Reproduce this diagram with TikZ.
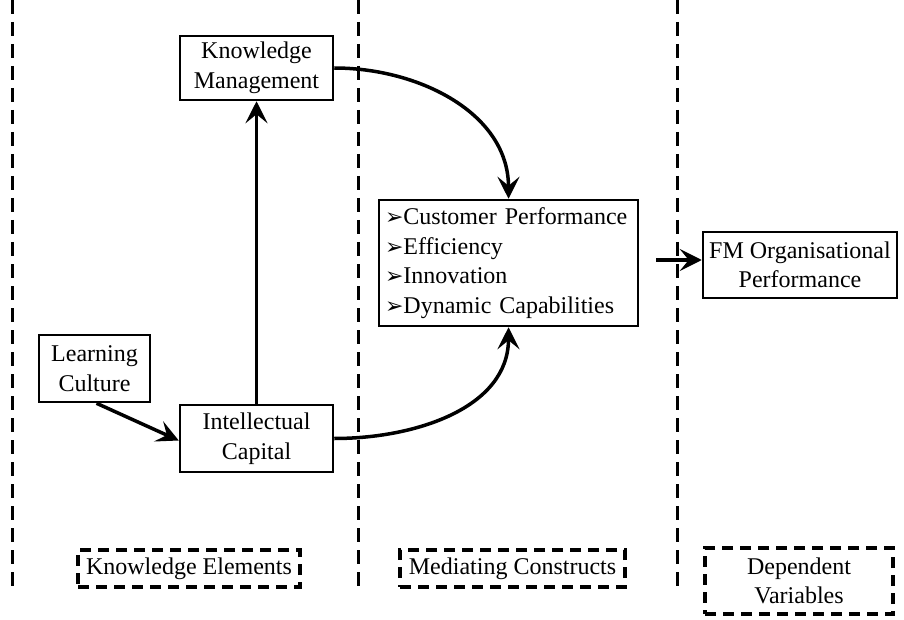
\documentclass[tikz,border=0pt]{standalone}
\usepackage{fontspec}
\setmainfont{Liberation Serif}
\newfontfamily\dejavu{DejaVu Sans}
\usetikzlibrary{arrows.meta}
\begin{document}
\begin{tikzpicture}[x=1pt,y=-1pt,
  every node/.style={font=\fontsize{24}{29.5}\selectfont, inner sep=0pt},
  solidbox/.style={draw, line width=2.5pt, align=center},
  dashbox/.style={draw, line width=3.5pt, dash pattern=on 11pt off 7pt, align=center},
  divider/.style={line width=3pt, dash pattern=on 14pt off 8pt},
  arr/.style={line width=3.5pt, -{Stealth[length=22pt,width=22pt,inset=9pt]}}
]
\useasboundingbox (0,0) rectangle (904,620);
% dividers
\draw[divider] (12,0) -- (12,590);
\draw[divider] (358,0) -- (358,590);
\draw[divider] (677,0) -- (677,590);
% nodes
\node[solidbox, minimum width=153pt, minimum height=64pt] (km) at (256.5,68) {Knowledge\\Management};
\node[solidbox, minimum width=111pt, minimum height=67pt] (lc) at (94.5,368.5) {Learning\\Culture};
\node[solidbox, minimum width=153pt, minimum height=67pt] (ic) at (256.5,438.5) {Intellectual\\Capital};
\node[solidbox, minimum width=259pt, minimum height=126pt, align=left, text width=247pt] (mc) at (508.5,263)
 {{\dejavu\fontsize{22}{29.5}\selectfont\char"27A2}Customer Performance\\
  {\dejavu\fontsize{22}{29.5}\selectfont\char"27A2}Efficiency\\
  {\dejavu\fontsize{22}{29.5}\selectfont\char"27A2}Innovation\\
  {\dejavu\fontsize{22}{29.5}\selectfont\char"27A2}Dynamic Capabilities};
\node[solidbox, minimum width=194pt, minimum height=66pt] (fm) at (800,265) {FM Organisational\\Performance};
\node[dashbox, minimum width=222pt, minimum height=37pt] (ke) at (189,568.5) {Knowledge Elements};
\node[dashbox, minimum width=225pt, minimum height=37pt] (mcl) at (512.5,568.5) {Mediating Constructs};
\node[dashbox, minimum width=188pt, minimum height=66pt] (dv) at (799,581) {Dependent\\Variables};
% connectors
\draw[arr] (ic.north) -- (km.south);
\draw[arr] ([xshift=2pt]lc.south) -- ([yshift=-2pt]ic.west);
\draw[arr] (km.east) to[out=0,in=90] (mc.north);
\draw[arr] (ic.east) to[out=0,in=-90] (mc.south);
\coordinate (mcout) at ([xshift=17pt,yshift=3pt]mc.east);
\draw[arr] (mcout) -- (mcout -| fm.west);
\end{tikzpicture}
\end{document}
